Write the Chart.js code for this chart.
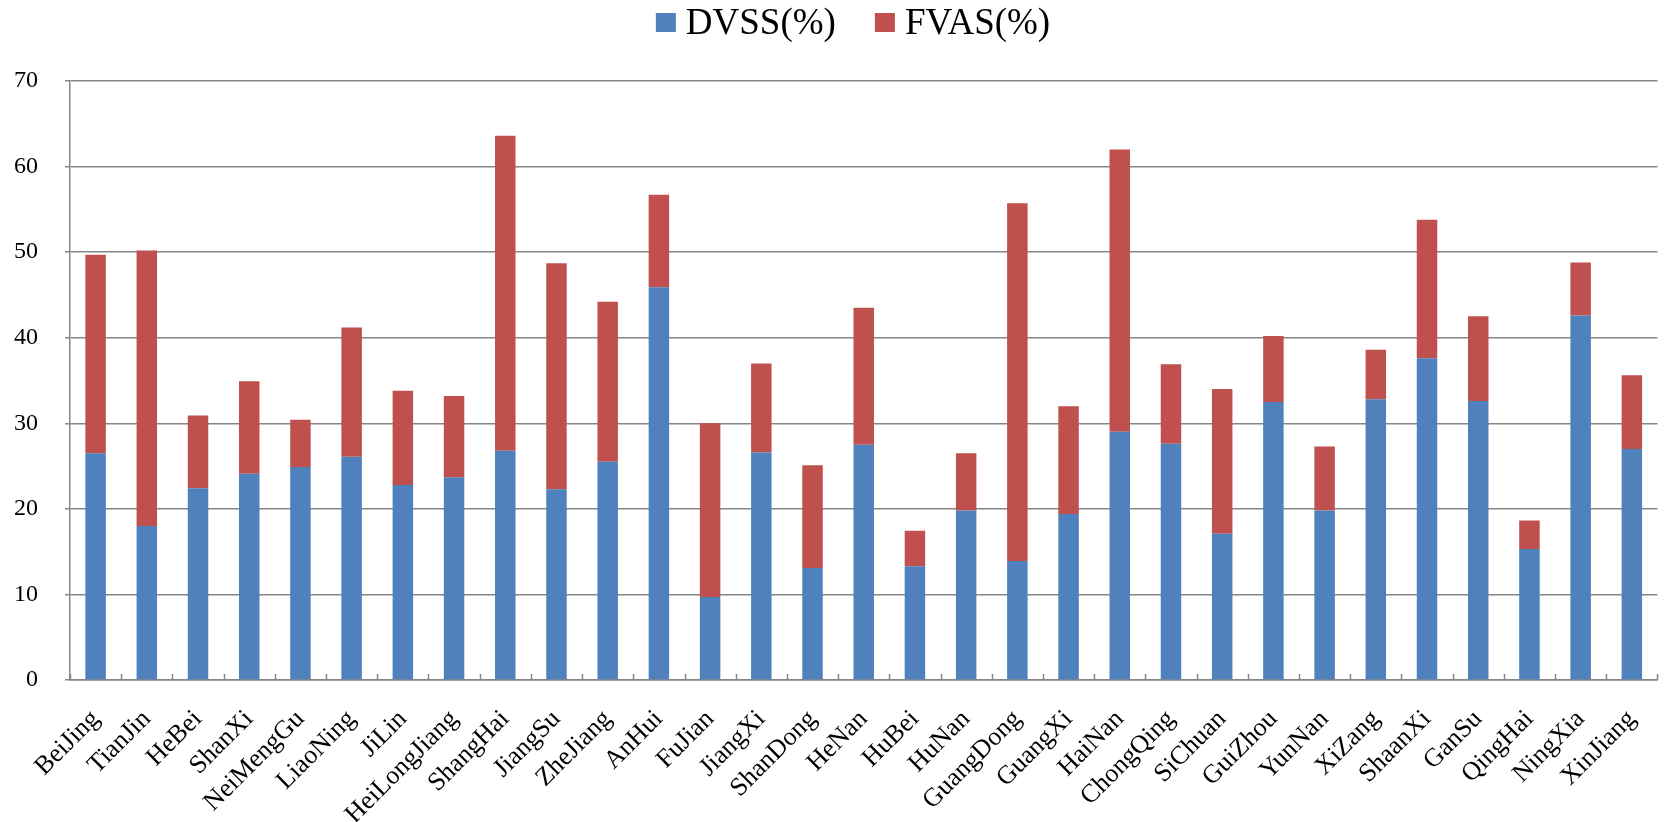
<!DOCTYPE html>
<html>
<head>
<meta charset="utf-8">
<script src="https://cdn.jsdelivr.net/npm/chart.js@4/dist/chart.umd.min.js"></script>
<style>
  html, body { margin: 0; padding: 0; background: #ffffff; }
  #wrap { width: 1678px; height: 822px; position: relative; }
</style>
</head>
<body>
<div id="wrap"><canvas id="chart" width="1678" height="822"></canvas></div>
<script>
// Provinces along the category axis
const provinces = [
  'BeiJing', 'TianJin', 'HeBei', 'ShanXi', 'NeiMengGu', 'LiaoNing', 'JiLin',
  'HeiLongJiang', 'ShangHai', 'JiangSu', 'ZheJiang', 'AnHui', 'FuJian', 'JiangXi',
  'ShanDong', 'HeNan', 'HuBei', 'HuNan', 'GuangDong', 'GuangXi', 'HaiNan',
  'ChongQing', 'SiChuan', 'GuiZhou', 'YunNan', 'XiZang', 'ShaanXi', 'GanSu',
  'QingHai', 'NingXia', 'XinJiang'
];

// DVSS share (%), lower segment of each stack
const dvss = [
  26.5, 18.0, 22.4, 24.1, 24.9, 26.1, 22.8,
  23.7, 26.8, 22.3, 25.5, 45.9, 9.7, 26.6,
  13.1, 27.5, 13.3, 19.8, 13.9, 19.4, 29.0,
  27.6, 17.1, 32.5, 19.8, 32.8, 37.6, 32.6,
  15.3, 42.6, 27.0
];

// FVAS share (%), upper segment of each stack
const fvas = [
  23.2, 32.2, 8.5, 10.8, 5.5, 15.1, 11.0,
  9.5, 36.8, 26.4, 18.7, 10.8, 20.3, 10.4,
  12.0, 16.0, 4.15, 6.7, 41.8, 12.6, 33.0,
  9.3, 16.9, 7.7, 7.5, 5.8, 16.2, 9.9,
  3.35, 6.2, 8.6
];

// Value axis ticks
const yTicks = [0, 10, 20, 30, 40, 50, 60, 70];

const FONT = "'Liberation Serif', 'Times New Roman', serif";
const AXIS_GRAY = '#868686';

// Short upward tick marks on the category axis, placed at category boundaries
const innerTicks = {
  id: 'innerTicks',
  afterDatasetsDraw(chart) {
    const x = chart.scales.x;
    const bottom = chart.chartArea.bottom;
    const n = provinces.length;
    const half = (x.getPixelForValue(1) - x.getPixelForValue(0)) / 2;
    const ctx = chart.ctx;
    ctx.save();
    ctx.strokeStyle = AXIS_GRAY;
    ctx.lineWidth = 1.5;
    ctx.beginPath();
    for (let i = 0; i <= n; i++) {
      const px = Math.round(x.getPixelForValue(i) - half) + 0.5;
      ctx.moveTo(px, bottom);
      ctx.lineTo(px, bottom - 6);
    }
    ctx.stroke();
    ctx.restore();
  }
};

// Legend row across the top: square swatch, then the series name
const topLegend = {
  id: 'topLegend',
  afterDraw(chart) {
    const ctx = chart.ctx;
    const box = 20, boxH = 19, gapText = 10, gapItem = 39;
    ctx.save();
    ctx.font = '37px ' + FONT;
    ctx.textBaseline = 'alphabetic';
    const items = chart.data.datasets.map(ds => ({
      text: ds.label, color: ds.backgroundColor, w: ctx.measureText(ds.label).width
    }));
    const total = items.reduce((s, it) => s + box + gapText + it.w, 0) + gapItem * (items.length - 1);
    let x = chart.width / 2 + 14 - total / 2;
    for (const it of items) {
      ctx.fillStyle = it.color;
      ctx.fillRect(x, 13, box, boxH);
      ctx.fillStyle = '#000000';
      ctx.fillText(it.text, x + box + gapText, 34);
      x += box + gapText + it.w + gapItem;
    }
    ctx.restore();
  }
};

new Chart(document.getElementById('chart'), {
  type: 'bar',
  data: {
    labels: provinces,
    datasets: [
      {
        label: 'DVSS(%)',
        data: dvss,
        backgroundColor: '#4F81BD',
        borderWidth: 0,
        barPercentage: 0.8,
        categoryPercentage: 0.5
      },
      {
        label: 'FVAS(%)',
        data: fvas,
        backgroundColor: '#C0504D',
        borderWidth: 0,
        barPercentage: 0.8,
        categoryPercentage: 0.5
      }
    ]
  },
  options: {
    responsive: false,
    animation: false,
    layout: { padding: { top: 81, right: 5, bottom: 0, left: 0 } },
    plugins: {
      legend: { display: false },
      tooltip: { enabled: false }
    },
    scales: {
      x: {
        stacked: true,
        grid: { display: false, drawTicks: false },
        border: { display: true, color: AXIS_GRAY, width: 1.5 },
        ticks: {
          font: { family: FONT, size: 26 },
          color: '#000000',
          maxRotation: 45,
          minRotation: 45,
          autoSkip: false,
          padding: 24
        },
        afterFit(scale) { scale.height = 142; }
      },
      y: {
        stacked: true,
        min: 0,
        max: 70,
        afterBuildTicks(scale) { scale.ticks = yTicks.map(v => ({ value: v })); },
        grid: { color: AXIS_GRAY, lineWidth: 1.5, tickLength: 5 },
        border: { display: true, color: AXIS_GRAY, width: 1.5 },
        ticks: {
          font: { family: FONT, size: 24 },
          color: '#000000',
          padding: 27
        },
        afterFit(scale) { scale.width = 70; }
      }
    }
  },
  plugins: [innerTicks, topLegend]
});
</script>
</body>
</html>
